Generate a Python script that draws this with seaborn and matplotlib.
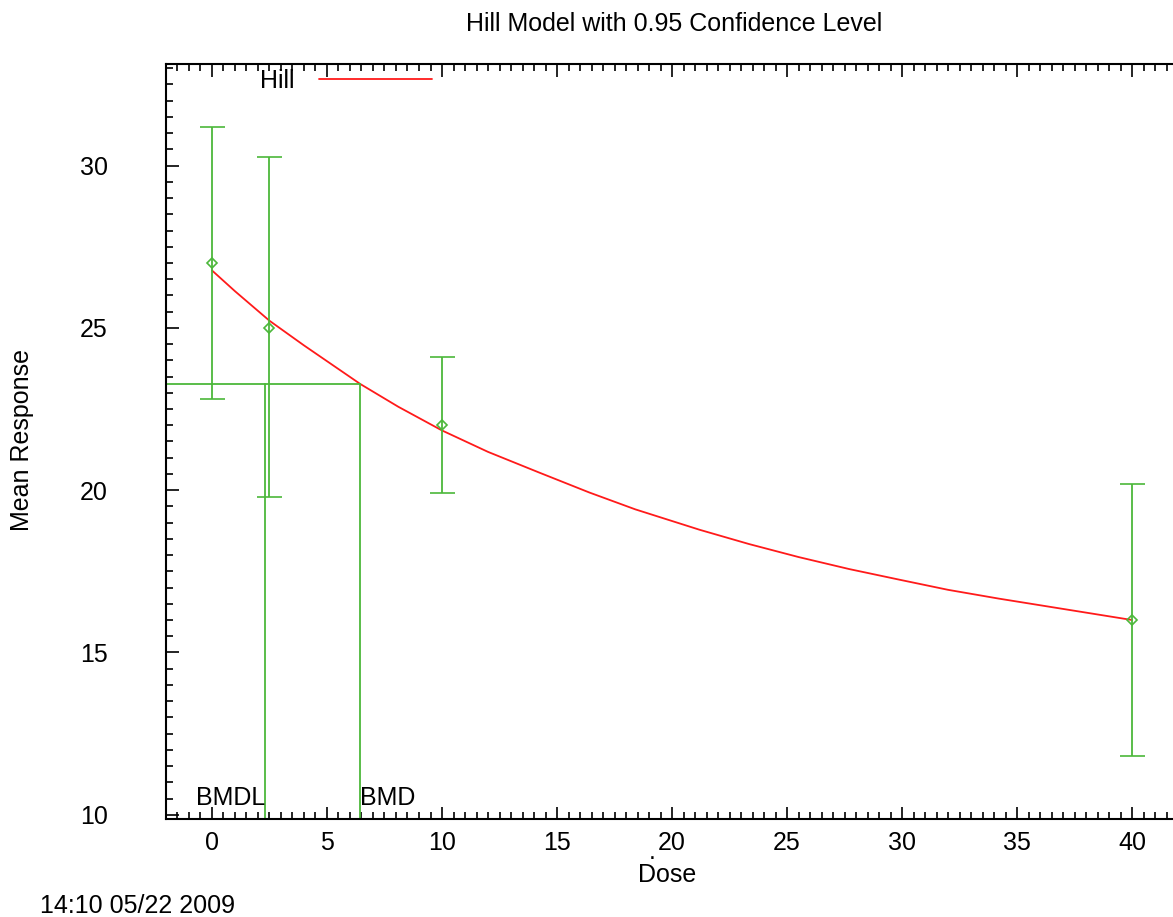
import numpy as np
import matplotlib
matplotlib.use("Agg")
import matplotlib.pyplot as plt
from matplotlib.ticker import MultipleLocator
import seaborn as sns

sns.set_style("ticks")
plt.rcParams["font.family"] = ["Liberation Sans", "DejaVu Sans"]
plt.rcParams["text.color"] = "black"
plt.rcParams["xtick.color"] = "black"
plt.rcParams["ytick.color"] = "black"

# observed group means with 95% confidence limits
dose = [0, 2.5, 10, 40]
mean_resp = [27.0, 25.0, 22.0, 16.0]
lower_cl = [22.8, 19.78, 19.9, 11.82]
upper_cl = [31.2, 30.25, 24.1, 20.2]

# fitted Hill curve
curve_dose = [0, 1, 2.5, 4, 6.45, 8.1, 10, 12.0, 14.2, 16.4, 18.4, 21.2, 23.35,
              25.5, 27.7, 29.9, 32.0, 34.2, 40]
curve_resp = [26.77, 26.13, 25.22, 24.46, 23.27, 22.57, 21.84, 21.18, 20.55, 19.93,
              19.41, 18.78, 18.34, 17.94, 17.57, 17.24, 16.93, 16.66, 16.0]

bmd = 6.45
bmdl = 2.32
bmr_level = 23.27

green = "#4cb83a"
red = "#ff1a1a"
fs = 18

fig = plt.figure(figsize=(11.73, 9.17), dpi=100)
ax = fig.add_axes([0.1415, 0.1069, 0.8585, 0.8233])

sns.lineplot(x=curve_dose, y=curve_resp, color=red, lw=1.3, ax=ax, label="Hill")

yerr = [np.array(mean_resp) - np.array(lower_cl), np.array(upper_cl) - np.array(mean_resp)]
ax.errorbar(dose, mean_resp, yerr=yerr, fmt="D", ms=5, mfc="none", mec=green, mew=1.2,
            ecolor=green, elinewidth=1.3, capsize=9, capthick=1.2, zorder=3)

ax.set_xlim(-2, 41.78)
ax.set_ylim(9.87, 33.13)

# BMD / BMDL markers
ax.plot([-2, bmd], [bmr_level, bmr_level], color=green, lw=1.3)
ax.plot([bmd, bmd], [9.87, bmr_level], color=green, lw=1.3)
ax.plot([bmdl, bmdl], [9.87, bmr_level], color=green, lw=1.3)
ax.text(bmdl, 10.3, "BMDL", ha="right", va="baseline", fontsize=fs)
ax.text(bmd, 10.3, "BMD", ha="left", va="baseline", fontsize=fs)

ax.xaxis.set_major_locator(MultipleLocator(5))
ax.xaxis.set_minor_locator(MultipleLocator(0.5))
ax.yaxis.set_major_locator(MultipleLocator(5))
ax.yaxis.set_minor_locator(MultipleLocator(0.5))
ax.tick_params(which="both", direction="in", top=True, right=False, color="black", width=1.2)
ax.tick_params(which="major", length=9, labelsize=fs)
ax.tick_params(which="minor", length=5)
ax.tick_params(axis="x", which="major", pad=9)
ax.tick_params(axis="y", which="major", pad=42)
ax.spines["right"].set_visible(False)
for s in ["left", "top", "bottom"]:
    ax.spines[s].set_linewidth(1.5)
    ax.spines[s].set_color("black")

ax.set_xlabel("")
ax.set_ylabel("")

leg = ax.legend(loc="upper left", bbox_to_anchor=(0.0933, 0.994), frameon=False,
                markerfirst=False, handlelength=4.5, handletextpad=1.0,
                borderpad=0, borderaxespad=0, fontsize=fs)

fig.text(0.575, 0.974, "Hill Model with 0.95 Confidence Level", ha="center", va="center", fontsize=fs)
fig.text(0.569, 0.046, "Dose", ha="center", va="center", fontsize=fs)
fig.text(0.556, 0.071, ".", ha="center", va="center", fontsize=fs)
fig.text(0.019, 0.52, "Mean Response", ha="center", va="center", rotation=90, fontsize=fs)
fig.text(0.034, 0.012, "14:10 05/22 2009", ha="left", va="center", fontsize=fs)

fig.savefig("out.png", dpi=100)
